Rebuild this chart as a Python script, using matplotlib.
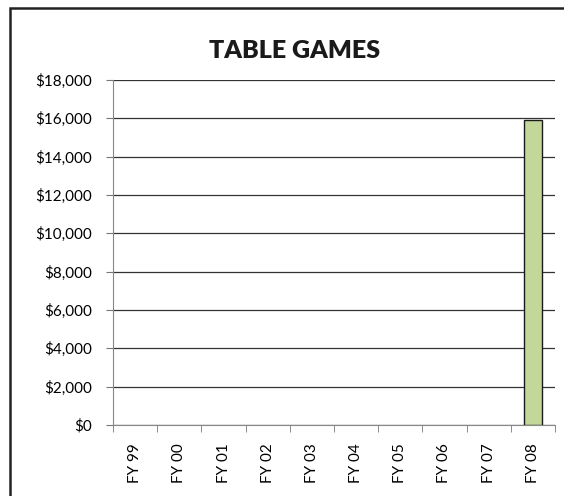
import matplotlib.pyplot as plt
import matplotlib.patches as mpatches
from matplotlib.ticker import FuncFormatter

years = ['FY 99', 'FY 00', 'FY 01', 'FY 02', 'FY 03',
         'FY 04', 'FY 05', 'FY 06', 'FY 07', 'FY 08']
revenue = [0, 0, 0, 0, 0, 0, 0, 0, 0, 15900]
yticks = [0, 2000, 4000, 6000, 8000, 10000, 12000, 14000, 16000, 18000]

plt.rcParams['font.family'] = ['Lato', 'DejaVu Sans']

fig = plt.figure(figsize=(5.64, 4.96), dpi=100)
ax = fig.add_axes([113/564, 1-425/496, 442/564, 345/496])

# outer chart frame, cut off on the right and bottom
frame = mpatches.Rectangle((10/564, -0.05), 1.1, 1-8/496+0.05, transform=fig.transFigure,
                           fill=False, edgecolor='#222222', linewidth=1.8, clip_on=False)
fig.patches.append(frame)

x = list(range(len(years)))
# zero-value bars are not visible in the original, so give them no outline
edge_w = [1.0 if v > 0 else 0 for v in revenue]
ax.bar(x, revenue, width=0.41, color='#C4D79B', edgecolor='#1a1a1a', linewidth=edge_w, zorder=3)

ax.set_xlim(-0.5, len(years) - 0.5)
ax.set_ylim(0, 18000)
ax.set_yticks(yticks)
ax.yaxis.set_major_formatter(FuncFormatter(lambda v, p: f'${int(v):,}'))
ax.grid(axis='y', color='#333333', linewidth=0.9, zorder=0)

ax.set_xticks(x)
ax.set_xticklabels(years, rotation=90)
ax.set_xticks([i - 0.5 for i in range(len(years) + 1)], minor=True)
ax.tick_params(axis='x', which='major', length=0, pad=13, labelsize=11)
ax.tick_params(axis='x', which='minor', length=5, color='#777777', direction='out')
ax.tick_params(axis='y', length=5, color='#777777', labelsize=11, pad=10)

for s in ['top', 'right']:
    ax.spines[s].set_visible(False)
ax.spines['left'].set_color('#888888')
ax.spines['bottom'].set_color('#888888')

fig.text(295/564, 1-58/496, 'TABLE GAMES', ha='center', va='baseline',
         fontsize=18, fontweight='heavy', color='#1a1a1a')

fig.savefig('out.png', dpi=100)
